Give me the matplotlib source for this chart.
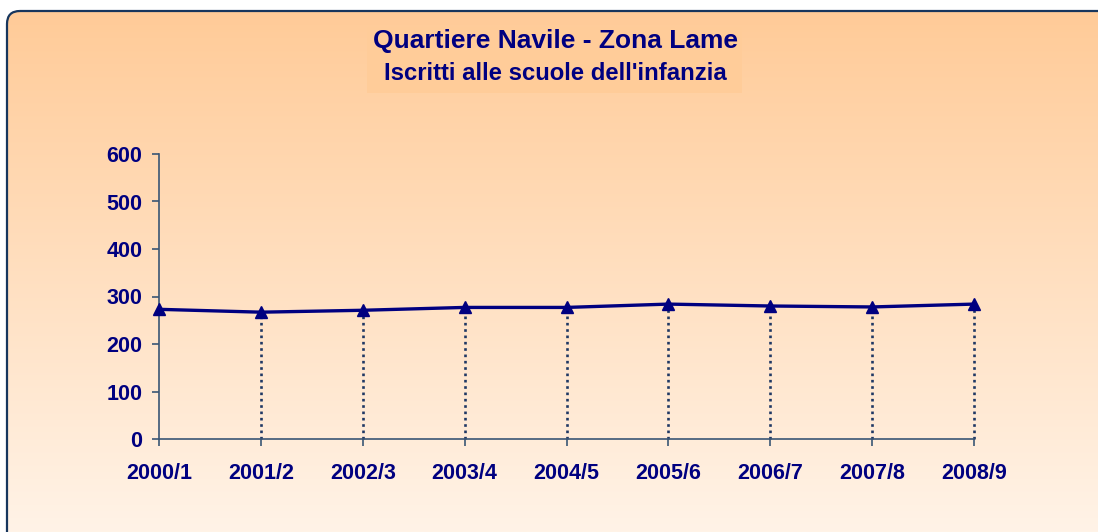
import numpy as np
import matplotlib
matplotlib.use("Agg")
import matplotlib.pyplot as plt
from matplotlib.patches import FancyBboxPatch, Rectangle

# data
years = ["2000/1", "2001/2", "2002/3", "2003/4", "2004/5",
         "2005/6", "2006/7", "2007/8", "2008/9"]
iscritti = [273, 267, 271, 277, 277, 284, 280, 278, 284]
yticks = [0, 100, 200, 300, 400, 500, 600]

NAVY, AXIS, DROP = "#000080", "#3A5675", "#1F3864"
TOP, BOTTOM = "#FFCB98", "#FFF3E7"

plt.rcParams["font.family"] = ["Liberation Sans", "DejaVu Sans"]

W, H = 1098, 532
fig = plt.figure(figsize=(W / 100, H / 100), dpi=100)
fig.patch.set_facecolor("white")

# background with vertical gradient inside a rounded frame
bg = fig.add_axes([0, 0, 1, 1])
bg.set_xlim(0, W)
bg.set_ylim(H, 0)
bg.axis("off")
c0 = np.array(matplotlib.colors.to_rgb(TOP))
c1 = np.array(matplotlib.colors.to_rgb(BOTTOM))
t = np.linspace(0, 1, 256)[:, None]
grad = (c0 * (1 - t) + c1 * t)[:, None, :]
frame = FancyBboxPatch((7, 11), W + 20, H + 20,
                       boxstyle="round,pad=0,rounding_size=13",
                       facecolor="none", edgecolor="#17365D", lw=1.6, zorder=3)
bg.add_patch(frame)
img = bg.imshow(grad, extent=(0, W, H, 11), aspect="auto", zorder=1)
img.set_clip_path(frame)
# flat patch behind the title
bg.add_patch(Rectangle((367, 27), 375, 66, facecolor="#FFCC99", edgecolor="none", zorder=2))

fig.text(0.506, 0.922, "Quartiere Navile - Zona Lame", ha="center", va="center",
         fontsize=19, fontweight="bold", color=NAVY)
fig.text(0.506, 0.862, "Iscritti alle scuole dell'infanzia", ha="center", va="center",
         fontsize=17.2, fontweight="bold", color=NAVY)

ax = fig.add_axes([159 / W, 1 - 439 / H, 815 / W, 285 / H])
ax.patch.set_alpha(0)
x = np.arange(len(years))
drops = ax.vlines(x[1:], 0, iscritti[1:], colors=DROP, linestyles=(0, (1, 1.4)), lw=1.9)
drops.set_snap(True)
drops.set_clip_on(False)
ax.plot(x, iscritti, color=NAVY, lw=2.4, marker="^", markersize=9, clip_on=False, zorder=4)
ax.set_xlim(0, len(years) - 1)
ax.set_ylim(0, 600)
ax.set_xticks(x)
ax.set_xticklabels(years)
ax.set_yticks(yticks)
ax.spines[["top", "right"]].set_visible(False)
ax.spines[["left", "bottom"]].set_color(AXIS)
ax.spines[["left", "bottom"]].set_linewidth(1.2)
ax.tick_params(axis="both", direction="out", length=5, width=1.2, color=AXIS,
               labelcolor=NAVY, labelsize=15.5)
ax.tick_params(axis="y", pad=7)
ax.tick_params(axis="x", pad=12)
for lab in ax.get_xticklabels() + ax.get_yticklabels():
    lab.set_fontweight("bold")

fig.savefig("out.png", dpi=100, facecolor="white")
